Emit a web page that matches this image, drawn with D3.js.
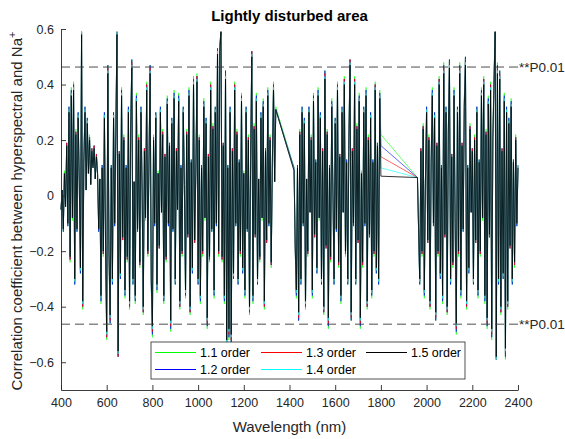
<!DOCTYPE html>
<html>
<head>
<meta charset="utf-8">
<script src="https://cdn.jsdelivr.net/npm/d3@7"></script>
<style>
  body { margin: 0; background: #fff; }
  svg { display: block; font-family: "Liberation Sans", Arial, sans-serif; }
</style>
</head>
<body>
<svg id="chart" width="565" height="439"></svg>
<script>
// wavelength grid (nm), 5 nm step, water-absorption bands removed
const wavelengths = [
  ...d3.range(400, 1341, 5),
  ...d3.range(1420, 1801, 5),
  ...d3.range(1960, 2401, 5)
];

// correlation coefficients per fractional derivative order
const order11 = [
  -.05,.02,-.13,.09,-.04,.19,-.11,.32,-.24,.39,-.09,.41,-.32,.24,-.13,.3,.05,-.28,.59,-.41,
  .13,.32,.02,.28,.09,.22,.04,.17,.11,.18,.06,.15,.09,-.13,.06,-.39,.11,-.22,.3,-.19,
  -.52,.47,-.22,-.46,.11,-.32,.3,-.11,.24,.59,-.58,.16,-.3,.39,-.16,.22,-.37,.11,-.24,.32,
  -.41,.26,.49,-.32,.05,-.39,.37,-.13,.22,-.26,.32,.02,-.43,.17,-.09,.41,-.22,.13,.47,-.32,
  -.51,.22,-.11,.3,-.35,.09,-.19,.32,-.06,.24,-.39,.15,-.24,.36,-.11,.19,-.49,.28,-.13,.38,
  -.32,.17,-.05,.37,-.41,.11,-.22,.32,.04,-.37,.24,-.15,.39,-.43,.13,-.28,.43,-.17,.09,.44,
  -.32,.22,-.39,.11,-.22,.35,-.09,.28,-.48,.15,-.24,.41,-.13,.26,-.37,.32,-.11,.53,-.22,.54,
  .59,-.24,.19,-.39,.45,-.55,.11,-.52,.32,-.54,.17,-.3,.41,-.11,.24,-.32,.13,-.22,.37,-.28,
  .09,-.37,.32,-.13,.22,-.43,.15,.52,-.39,.26,-.15,.37,-.32,.06,-.24,.3,-.09,.35,-.41,.17,
  -.17,.39,-.11,.22,-.26,.13,.41,.05,.32,
  .1,-.19,-.37,.11,-.45,.24,-.32,.32,-.11,.28,-.41,.06,-.22,.32,-.06,.22,-.37,.37,-.15,.13,
  -.28,.39,-.09,.3,-.32,.17,-.43,.45,-.19,.24,-.48,.11,-.24,.35,.02,-.32,.28,-.13,.41,-.26,
  .15,-.39,.32,-.06,.43,-.22,.13,-.32,.22,.49,-.45,.17,-.11,.43,-.32,.26,-.17,.37,-.48,.09,
  -.26,.32,-.11,.39,-.41,.22,-.15,.3,-.37,.13,-.22,.41,-.28,.19,-.32,.38,.22,
  .065,-.13,-.32,.17,-.22,.26,-.37,.06,.32,-.17,.22,-.41,.13,.39,-.11,.3,-.45,.19,-.22,.43,
  -.3,.11,-.39,.48,-.15,.32,-.43,.24,.49,-.32,.15,-.26,.39,-.11,-.5,.32,-.22,.48,-.37,.19,
  -.13,.35,.5,-.41,.11,-.28,.26,-.06,.17,-.32,.22,-.17,.32,-.37,.13,-.22,.39,-.09,.43,-.39,
  .24,-.48,.36,-.15,.41,-.52,.22,.43,.59,-.59,.48,-.32,.45,-.43,.17,-.3,.37,-.59,.32,
  -.41,.28,-.19,.35,-.32,.13,-.26,.22,-.11,.11
];
const order12 = [
  -.05,.02,-.13,.08,-.04,.19,-.11,.32,-.23,.38,-.08,.4,-.32,.23,-.13,.3,.05,-.28,.59,-.4,
  .13,.32,.02,.28,.08,.21,.04,.17,.11,.18,.06,.15,.08,-.13,.06,-.38,.11,-.21,.3,-.19,
  -.51,.47,-.21,-.46,.11,-.32,.3,-.11,.23,.59,-.58,.16,-.3,.38,-.16,.21,-.36,.11,-.23,.32,
  -.4,.25,.49,-.32,.05,-.38,.36,-.13,.21,-.25,.32,.02,-.42,.17,-.08,.4,-.21,.13,.47,-.32,
  -.5,.21,-.11,.3,-.34,.08,-.19,.32,-.06,.23,-.38,.15,-.23,.35,-.11,.19,-.48,.28,-.13,.37,
  -.32,.17,-.05,.36,-.4,.11,-.21,.32,.04,-.36,.23,-.15,.38,-.42,.13,-.28,.42,-.17,.08,.43,
  -.32,.21,-.38,.11,-.21,.34,-.08,.28,-.47,.15,-.23,.4,-.13,.25,-.36,.32,-.11,.53,-.21,.54,
  .59,-.23,.19,-.38,.45,-.55,.11,-.51,.32,-.53,.17,-.3,.4,-.11,.23,-.32,.13,-.21,.36,-.28,
  .08,-.36,.32,-.13,.21,-.42,.15,.52,-.38,.25,-.15,.36,-.32,.06,-.23,.3,-.08,.34,-.4,.17,
  -.17,.38,-.11,.21,-.25,.13,.4,.05,.31,
  .1,-.19,-.36,.11,-.45,.23,-.32,.32,-.11,.28,-.4,.06,-.21,.32,-.06,.21,-.36,.36,-.15,.13,
  -.28,.38,-.08,.3,-.32,.17,-.42,.45,-.19,.23,-.47,.11,-.23,.34,.02,-.32,.28,-.13,.4,-.25,
  .15,-.38,.32,-.06,.42,-.21,.13,-.32,.21,.49,-.45,.17,-.11,.42,-.32,.25,-.17,.36,-.47,.08,
  -.25,.32,-.11,.38,-.4,.21,-.15,.3,-.36,.13,-.21,.4,-.28,.19,-.32,.37,.18,
  .065,-.13,-.32,.17,-.21,.25,-.36,.06,.32,-.17,.21,-.4,.13,.38,-.11,.3,-.45,.19,-.21,.42,
  -.3,.11,-.38,.47,-.15,.32,-.42,.23,.49,-.32,.15,-.25,.38,-.11,-.49,.32,-.21,.47,-.36,.19,
  -.13,.34,.5,-.4,.11,-.28,.25,-.06,.17,-.32,.21,-.17,.32,-.36,.13,-.21,.38,-.08,.42,-.38,
  .23,-.47,.35,-.15,.4,-.51,.21,.42,.59,-.59,.47,-.32,.45,-.42,.17,-.3,.36,-.58,.32,
  -.4,.28,-.19,.34,-.32,.13,-.25,.21,-.11,.11
];
const order13 = [
  -.05,.02,-.12,.08,-.04,.19,-.1,.31,-.23,.37,-.08,.4,-.31,.23,-.12,.29,.05,-.27,.59,-.4,
  .12,.31,.02,.27,.08,.21,.04,.17,.1,.18,.06,.15,.08,-.12,.06,-.37,.1,-.21,.29,-.19,
  -.51,.46,-.21,-.45,.1,-.31,.29,-.1,.23,.59,-.58,.16,-.29,.37,-.16,.21,-.35,.1,-.23,.31,
  -.4,.25,.48,-.31,.05,-.37,.35,-.12,.21,-.25,.31,.02,-.42,.17,-.08,.4,-.21,.12,.46,-.31,
  -.49,.21,-.1,.29,-.33,.08,-.19,.31,-.06,.23,-.37,.15,-.23,.34,-.1,.19,-.47,.27,-.12,.36,
  -.31,.17,-.05,.35,-.4,.1,-.21,.31,.04,-.35,.23,-.15,.37,-.42,.12,-.27,.42,-.17,.08,.43,
  -.31,.21,-.37,.1,-.21,.33,-.08,.27,-.46,.15,-.23,.4,-.12,.25,-.35,.31,-.1,.53,-.21,.54,
  .59,-.23,.19,-.37,.44,-.54,.1,-.5,.31,-.52,.17,-.29,.4,-.1,.23,-.31,.12,-.21,.35,-.27,
  .08,-.35,.31,-.12,.21,-.42,.15,.52,-.37,.25,-.15,.35,-.31,.06,-.23,.29,-.08,.33,-.4,.17,
  -.17,.37,-.1,.21,-.25,.12,.4,.05,.31,
  .09,-.19,-.35,.1,-.44,.23,-.31,.31,-.1,.27,-.4,.06,-.21,.31,-.06,.21,-.35,.35,-.15,.12,
  -.27,.37,-.08,.29,-.31,.17,-.42,.44,-.19,.23,-.46,.1,-.23,.33,.02,-.31,.27,-.12,.4,-.25,
  .15,-.37,.31,-.06,.42,-.21,.12,-.31,.21,.49,-.44,.17,-.1,.42,-.31,.25,-.17,.35,-.46,.08,
  -.25,.31,-.1,.37,-.4,.21,-.15,.29,-.35,.12,-.21,.4,-.27,.19,-.31,.36,.14,
  .065,-.12,-.31,.17,-.21,.25,-.35,.06,.31,-.17,.21,-.4,.12,.37,-.1,.29,-.44,.19,-.21,.42,
  -.29,.1,-.37,.46,-.15,.31,-.42,.23,.48,-.31,.15,-.25,.37,-.1,-.48,.31,-.21,.46,-.35,.19,
  -.12,.33,.49,-.4,.1,-.27,.25,-.06,.17,-.31,.21,-.17,.31,-.35,.12,-.21,.37,-.08,.42,-.37,
  .23,-.46,.34,-.15,.4,-.5,.21,.42,.59,-.59,.46,-.31,.44,-.42,.17,-.29,.35,-.57,.31,
  -.4,.27,-.19,.33,-.31,.12,-.25,.21,-.1,.1
];
const order14 = [
  -.05,.02,-.12,.08,-.04,.18,-.1,.31,-.22,.37,-.08,.39,-.31,.22,-.12,.29,.05,-.27,.59,-.39,
  .12,.31,.02,.27,.08,.2,.04,.16,.1,.17,.06,.14,.08,-.12,.06,-.37,.1,-.2,.29,-.18,
  -.5,.45,-.2,-.44,.1,-.31,.29,-.1,.22,.59,-.57,.15,-.29,.37,-.15,.2,-.35,.1,-.22,.31,
  -.39,.24,.47,-.31,.05,-.37,.35,-.12,.2,-.24,.31,.02,-.41,.16,-.08,.39,-.2,.12,.45,-.31,
  -.48,.2,-.1,.29,-.33,.08,-.18,.31,-.06,.22,-.37,.14,-.22,.34,-.1,.18,-.46,.27,-.12,.36,
  -.31,.16,-.05,.35,-.39,.1,-.2,.31,.04,-.35,.22,-.14,.37,-.41,.12,-.27,.41,-.16,.08,.42,
  -.31,.2,-.37,.1,-.2,.33,-.08,.27,-.45,.14,-.22,.39,-.12,.24,-.35,.31,-.1,.52,-.2,.53,
  .59,-.22,.18,-.37,.43,-.53,.1,-.49,.31,-.51,.16,-.29,.39,-.1,.22,-.31,.12,-.2,.35,-.27,
  .08,-.35,.31,-.12,.2,-.41,.14,.51,-.37,.24,-.14,.35,-.31,.06,-.22,.29,-.08,.33,-.39,.16,
  -.16,.37,-.1,.2,-.24,.12,.39,.05,.31,
  .09,-.18,-.35,.1,-.43,.22,-.31,.31,-.1,.27,-.39,.06,-.2,.31,-.06,.2,-.35,.35,-.14,.12,
  -.27,.37,-.08,.29,-.31,.16,-.41,.43,-.18,.22,-.45,.1,-.22,.33,.02,-.31,.27,-.12,.39,-.24,
  .14,-.37,.31,-.06,.41,-.2,.12,-.31,.2,.48,-.43,.16,-.1,.41,-.31,.24,-.16,.35,-.45,.08,
  -.24,.31,-.1,.37,-.39,.2,-.14,.29,-.35,.12,-.2,.39,-.27,.18,-.31,.36,.1,
  .065,-.12,-.31,.16,-.2,.24,-.35,.06,.31,-.16,.2,-.39,.12,.37,-.1,.29,-.43,.18,-.2,.41,
  -.29,.1,-.37,.45,-.14,.31,-.41,.22,.47,-.31,.14,-.24,.37,-.1,-.47,.31,-.2,.45,-.35,.18,
  -.12,.33,.48,-.39,.1,-.27,.24,-.06,.16,-.31,.2,-.16,.31,-.35,.12,-.2,.37,-.08,.41,-.37,
  .22,-.45,.34,-.14,.39,-.49,.2,.41,.59,-.59,.45,-.31,.43,-.41,.16,-.29,.35,-.56,.31,
  -.39,.27,-.18,.33,-.31,.12,-.24,.2,-.1,.1
];
const order15 = [
  -.05,.02,-.12,.08,-.04,.18,-.1,.3,-.22,.36,-.08,.38,-.3,.22,-.12,.28,.05,-.26,.58,-.38,
  .12,.3,.02,.26,.08,.2,.04,.16,.1,.17,.06,.14,.08,-.12,.06,-.36,.1,-.2,.28,-.18,
  -.49,.44,-.2,-.43,.1,-.3,.28,-.1,.22,.58,-.56,.15,-.28,.36,-.15,.2,-.34,.1,-.22,.3,
  -.38,.24,.46,-.3,.05,-.36,.34,-.12,.2,-.24,.3,.02,-.4,.16,-.08,.38,-.2,.12,.44,-.3,
  -.47,.2,-.1,.28,-.32,.08,-.18,.3,-.06,.22,-.36,.14,-.22,.33,-.1,.18,-.45,.26,-.12,.35,
  -.3,.16,-.05,.34,-.38,.1,-.2,.3,.04,-.34,.22,-.14,.36,-.4,.12,-.26,.4,-.16,.08,.41,
  -.3,.2,-.36,.1,-.2,.32,-.08,.26,-.44,.14,-.22,.38,-.12,.24,-.34,.3,-.1,.51,-.2,.52,
  .59,-.22,.18,-.36,.42,-.52,.1,-.48,.3,-.5,.16,-.28,.38,-.1,.22,-.3,.12,-.2,.34,-.26,
  .08,-.34,.3,-.12,.2,-.4,.14,.5,-.36,.24,-.14,.34,-.3,.06,-.22,.28,-.08,.32,-.38,.16,
  -.16,.36,-.1,.2,-.24,.12,.38,.05,.31,
  .09,-.18,-.34,.1,-.42,.22,-.3,.3,-.1,.26,-.38,.06,-.2,.3,-.06,.2,-.34,.34,-.14,.12,
  -.26,.36,-.08,.28,-.3,.16,-.4,.42,-.18,.22,-.44,.1,-.22,.32,.02,-.3,.26,-.12,.38,-.24,
  .14,-.36,.3,-.06,.4,-.2,.12,-.3,.2,.47,-.42,.16,-.1,.4,-.3,.24,-.16,.34,-.44,.08,
  -.24,.3,-.1,.36,-.38,.2,-.14,.28,-.34,.12,-.2,.38,-.26,.18,-.3,.35,.07,
  .065,-.12,-.3,.16,-.2,.24,-.34,.06,.3,-.16,.2,-.38,.12,.36,-.1,.28,-.42,.18,-.2,.4,
  -.28,.1,-.36,.44,-.14,.3,-.4,.22,.46,-.3,.14,-.24,.36,-.1,-.46,.3,-.2,.44,-.34,.18,
  -.12,.32,.47,-.38,.1,-.26,.24,-.06,.16,-.3,.2,-.16,.3,-.34,.12,-.2,.36,-.08,.4,-.36,
  .22,-.44,.33,-.14,.38,-.48,.2,.4,.59,-.58,.44,-.3,.42,-.4,.16,-.28,.34,-.55,.3,
  -.38,.26,-.18,.32,-.3,.12,-.24,.2,-.1,.1
];

const seriesNames = ['1.1 order', '1.2 order', '1.3 order', '1.4 order', '1.5 order'];
const seriesValues = [order11, order12, order13, order14, order15];
const xTicks = d3.range(400, 2401, 200);
const yTicks = [-0.6, -0.4, -0.2, 0, 0.2, 0.4, 0.6];
const significance = [0.463, -0.463];
const sigLabel = '**P0.01';

const colors = ['#00ff00', '#0000ff', '#ff0000', '#00ffff', '#000000'];
const widths = [0.6, 0.6, 0.6, 0.6, 0.8];
const axisColor = '#262626';

const svg = d3.select('#chart');
const x = d3.scaleLinear().domain([400, 2400]).range([61, 518]);
const y = d3.scaleLinear().domain([-0.7, 0.6]).range([390, 29]);

// series, low order first so 1.5 order sits on top
const line = d3.line()
  .x((d, i) => x(wavelengths[i]))
  .y(d => y(d));

svg.append('g')
  .selectAll('path')
  .data(seriesValues)
  .enter().append('path')
  .attr('d', d => line(d))
  .attr('fill', 'none')
  .attr('stroke', (d, i) => colors[i])
  .attr('stroke-width', (d, i) => widths[i]);

// significance thresholds
svg.append('g')
  .selectAll('line')
  .data(significance)
  .enter().append('line')
  .attr('x1', x(400)).attr('x2', x(2400))
  .attr('y1', d => y(d)).attr('y2', d => y(d))
  .attr('stroke', '#3a3a3a')
  .attr('stroke-width', 0.9)
  .attr('stroke-dasharray', '9,5');

svg.append('g')
  .selectAll('text')
  .data(significance)
  .enter().append('text')
  .attr('x', x(2400) + 1)
  .attr('y', d => y(d))
  .attr('dy', '0.35em')
  .attr('fill', axisColor)
  .style('font-size', '13.5px')
  .text(sigLabel);

// axes (MATLAB style: inward ticks, no box)
const xAxis = svg.append('g')
  .attr('transform', `translate(0,${y(-0.7)})`)
  .call(d3.axisBottom(x).tickValues(xTicks).tickSizeInner(-5).tickSizeOuter(0).tickPadding(8).tickFormat(d3.format('d')));
const yAxis = svg.append('g')
  .attr('transform', `translate(${x(400)},0)`)
  .call(d3.axisLeft(y).tickValues(yTicks).tickSizeInner(-5).tickSizeOuter(0).tickPadding(7).tickFormat(d => d === 0 ? '0' : d3.format('.1f')(d)));

[xAxis, yAxis].forEach(a => {
  a.select('.domain').attr('stroke', axisColor).attr('stroke-width', 0.9);
  a.selectAll('.tick line').attr('stroke', axisColor).attr('stroke-width', 0.9);
  a.selectAll('.tick text').attr('fill', axisColor)
    .style('font-size', '12.5px')
    .style('font-family', '"Liberation Sans", Arial, sans-serif');
});

// title and labels
svg.append('text')
  .attr('x', 289.5).attr('y', 21)
  .attr('text-anchor', 'middle')
  .style('font-size', '15px')
  .style('font-weight', 'bold')
  .attr('fill', '#000')
  .text('Lightly disturbed area');

svg.append('text')
  .attr('x', 289.5).attr('y', 432)
  .attr('text-anchor', 'middle')
  .style('font-size', '15px')
  .attr('fill', axisColor)
  .text('Wavelength (nm)');

const yl = svg.append('text')
  .attr('transform', 'translate(22,211) rotate(-90)')
  .attr('text-anchor', 'middle')
  .style('font-size', '15px')
  .attr('fill', axisColor);
yl.append('tspan').text('Correlation coefficient between hyperspectral and Na');
yl.append('tspan').attr('dy', -6).style('font-size', '11px').text('+');

// legend
const legend = svg.append('g');
legend.append('rect')
  .attr('x', 151).attr('y', 342)
  .attr('width', 314).attr('height', 37)
  .attr('fill', '#fff')
  .attr('stroke', axisColor)
  .attr('stroke-width', 0.8);

const colX = [155, 261, 366];
const rowY = [352.5, 369.5];
const items = legend.selectAll('g.item')
  .data(seriesNames)
  .enter().append('g')
  .attr('class', 'item')
  .attr('transform', (d, i) => `translate(${colX[Math.floor(i / 2)]},${rowY[i % 2]})`);
items.append('line')
  .attr('x1', 0).attr('x2', 41)
  .attr('stroke', (d, i) => colors[i])
  .attr('stroke-width', 1);
items.append('text')
  .attr('x', 45)
  .attr('dy', '0.35em')
  .attr('fill', '#000')
  .style('font-size', '12.5px')
  .text(d => d);
</script>
</body>
</html>
